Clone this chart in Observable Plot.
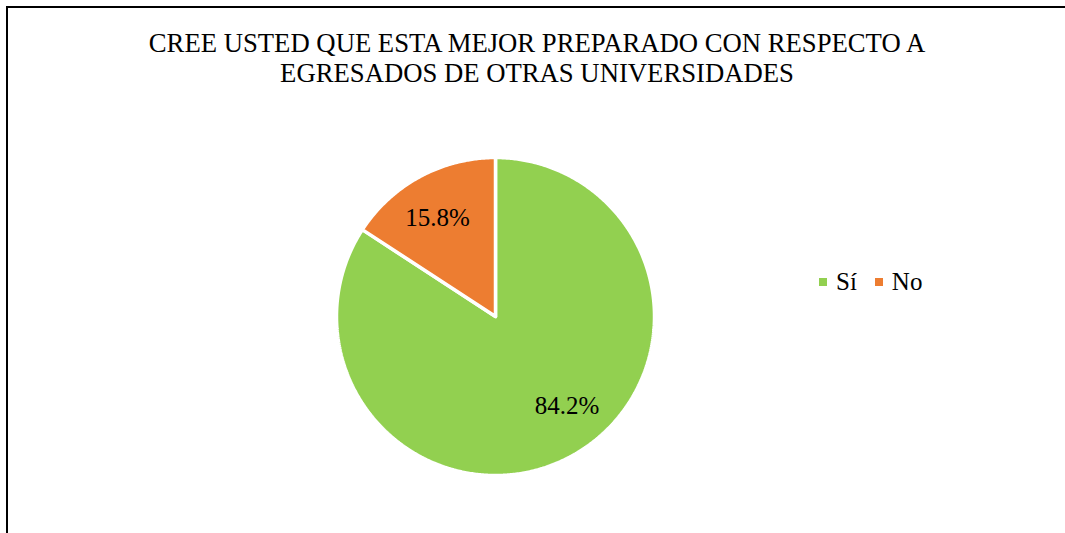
<!DOCTYPE html>
<html>
<head>
<meta charset="utf-8">
<script src="https://cdn.jsdelivr.net/npm/d3@7"></script>
<script src="https://cdn.jsdelivr.net/npm/@observablehq/plot@0.6"></script>
<style>
  html, body { margin: 0; padding: 0; background: #fff; overflow: hidden; }
  body { width: 1065px; height: 533px; position: relative; font-family: "Liberation Serif", "Times New Roman", serif; }
  #frame { position: absolute; left: 6px; top: 6px; width: 1062px; height: 600px;
           border-left: 2px solid #000; border-top: 2px solid #000; }
  #title { padding-top: 20px; height: 60px; width: 1058px; text-align: center; font-family: "Liberation Serif", serif; font-size: 26.7px; line-height: 30px; color: #000; }
  #chart svg { display: block; }
  #chart svg, #chart svg text { font-family: "Liberation Serif", serif !important; }
  #legend { position: absolute; left: 819px; top: 265px; }
  div.lg-swatches { font-family: "Liberation Serif", "Times New Roman", serif !important; font-size: 25px !important; color: #000; margin: 0 !important; }
  div.lg-swatches .lg-swatch { margin-right: 18px !important; }
  div.lg-swatches .lg-swatch > svg { margin-right: 9px !important; }
</style>
</head>
<body>
<div id="frame">
  <div id="title"></div>
  <div id="chart"></div>
</div>
<div id="legend"></div>
<script>
// ---- data ----
const titleLines = ["CREE USTED QUE ESTA MEJOR PREPARADO CON RESPECTO A", "EGRESADOS DE OTRAS UNIVERSIDADES"];
const categories = ["Sí", "No"];
const values = [84.2, 15.8];
const colors = ["#92D050", "#ED7D31"];

// ---- layout ----
const W = 1058, H = 444;          // svg size
const cx = 487, cy = 228, R = 159; // pie centre / radius in svg pixels

document.getElementById("title").innerHTML = titleLines.map(t => `<div>${t}</div>`).join("");

const rows = categories.map((c, i) => ({category: c, value: values[i]}));
const arcs = d3.pie().sort(null).value(d => d.value).startAngle(0).endAngle(2 * Math.PI)(rows);

// polygon outline of each slice (in unit-circle data coordinates)
const pts = [];
arcs.forEach(a => {
  const cat = a.data.category;
  pts.push({category: cat, x: 0, y: 0});
  const n = Math.max(2, Math.ceil((a.endAngle - a.startAngle) / (Math.PI / 360)));
  for (let k = 0; k <= n; k++) {
    const t = a.startAngle + (a.endAngle - a.startAngle) * k / n;
    pts.push({category: cat, x: Math.sin(t), y: Math.cos(t)});
  }
  pts.push({category: cat, x: 0, y: 0});
});

const labelPts = arcs.map(a => {
  const t = a.startAngle + (a.endAngle - a.startAngle) * 0.466;
  const r = 0.72;
  return {x: r * Math.sin(t), y: r * Math.cos(t), text: a.data.value.toFixed(1) + "%"};
});

const x0 = -cx / R, x1 = x0 + W / R;
const y1 = cy / R, y0 = y1 - H / R;

const plot = Plot.plot({
  width: W, height: H, margin: 0,
  style: {fontFamily: "'Liberation Serif', 'Times New Roman', serif", background: "transparent"},
  x: {domain: [x0, x1], axis: null},
  y: {domain: [y0, y1], axis: null},
  color: {domain: categories, range: colors},
  marks: [
    Plot.line(pts, {x: "x", y: "y", z: "category", fill: "category", stroke: "white", strokeWidth: 3.5, strokeLinejoin: "miter", curve: "linear"}),
    Plot.text(labelPts, {x: "x", y: "y", text: "text", fontSize: 25, fill: "black", fontFamily: "Liberation Serif"})
  ]
});
document.getElementById("chart").appendChild(plot);

const legend = Plot.legend({
  color: {domain: categories, range: colors},
  legend: "swatches",
  swatchSize: 8,
  className: "lg"
});
document.getElementById("legend").appendChild(legend);
</script>
</body>
</html>
